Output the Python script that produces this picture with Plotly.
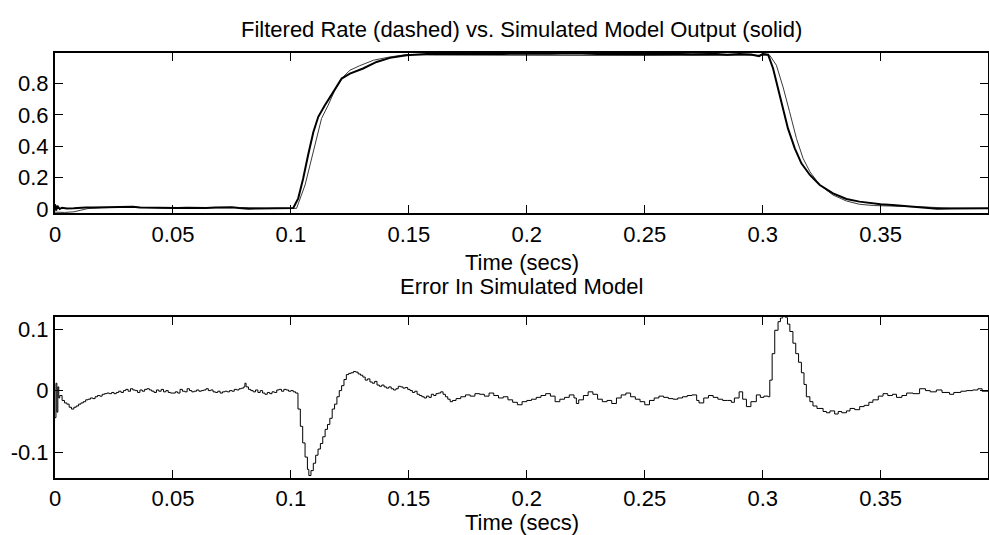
import plotly.graph_objects as go

# ---------------- data ----------------
t_filt = [0.000, 0.0005, 0.001, 0.002, 0.003, 0.005, 0.008, 0.010, 0.013, 0.016,
          0.020, 0.024, 0.027, 0.030, 0.033, 0.036, 0.040, 0.044, 0.048, 0.052,
          0.056, 0.060, 0.064, 0.068, 0.072, 0.075, 0.078, 0.082, 0.086, 0.090,
          0.094, 0.098, 0.1010, 0.1031, 0.1052, 0.1073, 0.1095, 0.1116, 0.1144, 0.1180,
          0.1215, 0.1250, 0.1306, 0.1363, 0.1420, 0.149, 0.159, 0.170, 0.180, 0.190,
          0.200, 0.210, 0.220, 0.230, 0.240, 0.250, 0.260, 0.270, 0.280, 0.285,
          0.290, 0.295, 0.2985, 0.300, 0.3023, 0.3044, 0.3065, 0.3086, 0.3107, 0.3136,
          0.3164, 0.3200, 0.3242, 0.3298, 0.3355, 0.3410, 0.346, 0.350, 0.355, 0.360,
          0.365, 0.370, 0.374, 0.380, 0.385, 0.390, 0.3955]
y_filt = [0.030, -0.010, 0.020, 0.000, 0.008, 0.003, 0.004, 0.008, 0.010, 0.010,
          0.011, 0.012, 0.016, 0.013, 0.014, 0.010, 0.008, 0.006, 0.004, 0.006,
          0.008, 0.006, 0.007, 0.010, 0.012, 0.011, 0.006, 0.002, 0.003, 0.005,
          0.006, 0.007, 0.006, 0.068, 0.195, 0.344, 0.490, 0.588, 0.662, 0.747,
          0.832, 0.864, 0.896, 0.938, 0.964, 0.981, 0.990, 0.988, 0.991, 0.989,
          0.992, 0.990, 0.993, 0.989, 0.991, 0.988, 0.990, 0.987, 0.989, 0.984,
          0.988, 0.986, 0.975, 0.989, 0.985, 0.896, 0.769, 0.641, 0.514, 0.387,
          0.291, 0.217, 0.153, 0.100, 0.064, 0.047, 0.038, 0.030, 0.026, 0.020,
          0.014, 0.010, 0.002, 0.003, 0.002, 0.004, 0.004]

t_model = [0.000, 0.004, 0.008, 0.011, 0.014, 0.020, 0.030, 0.040, 0.050, 0.060,
           0.070, 0.080, 0.090, 0.1000, 0.1024, 0.1060, 0.1080, 0.1109, 0.1130, 0.1158,
           0.1186, 0.1222, 0.1250, 0.1290, 0.1350, 0.1420, 0.1490, 0.160, 0.200, 0.250,
           0.300, 0.3030, 0.3058, 0.3086, 0.3114, 0.3143, 0.3171, 0.3200, 0.3242, 0.3298,
           0.3355, 0.3410, 0.347, 0.352, 0.360, 0.370, 0.380, 0.3955]
y_model = [-0.020, -0.022, -0.018, -0.005, 0.003, 0.008, 0.012, 0.009, 0.004, 0.007,
           0.008, 0.009, 0.004, 0.005, 0.004, 0.153, 0.280, 0.450, 0.578, 0.662,
           0.758, 0.843, 0.885, 0.913, 0.949, 0.970, 0.985, 0.982, 0.980, 0.979,
           0.981, 0.980, 0.917, 0.779, 0.620, 0.450, 0.323, 0.238, 0.153, 0.089,
           0.051, 0.030, 0.022, 0.020, 0.018, 0.012, 0.005, 0.003]

t_err = [0.0000, 0.0004, 0.0008, 0.0012, 0.0016, 0.0020, 0.0030, 0.0040, 0.0050, 0.0060,
         0.0070, 0.0080, 0.0090, 0.0100, 0.0110, 0.0120, 0.0130, 0.0140, 0.0150, 0.0160,
         0.0170, 0.0180, 0.0190, 0.0200, 0.0210, 0.0220, 0.0230, 0.0240, 0.0250, 0.0260,
         0.0270, 0.0280, 0.0290, 0.0300, 0.0310, 0.0320, 0.0330, 0.0340, 0.0350, 0.0360,
         0.0370, 0.0380, 0.0390, 0.0400, 0.0410, 0.0420, 0.0430, 0.0440, 0.0450, 0.0460,
         0.0470, 0.0480, 0.0490, 0.0500, 0.0510, 0.0520, 0.0530, 0.0540, 0.0550, 0.0560,
         0.0570, 0.0580, 0.0590, 0.0600, 0.0610, 0.0620, 0.0630, 0.0640, 0.0650, 0.0660,
         0.0670, 0.0680, 0.0690, 0.0700, 0.0710, 0.0720, 0.0730, 0.0740, 0.0750, 0.0760,
         0.0770, 0.0780, 0.0790, 0.0800, 0.0805, 0.0810, 0.0820, 0.0830, 0.0840, 0.0850,
         0.0860, 0.0870, 0.0880, 0.0890, 0.0900, 0.0910, 0.0920, 0.0930, 0.0940, 0.0950,
         0.0960, 0.0970, 0.0980, 0.0990, 0.1000, 0.1010, 0.1020, 0.1030, 0.1040, 0.1050,
         0.1060, 0.1070, 0.1076, 0.1085, 0.1095, 0.1105, 0.1115, 0.1125, 0.1135, 0.1145,
         0.1155, 0.1165, 0.1175, 0.1185, 0.1195, 0.1205, 0.1215, 0.1225, 0.1235, 0.1245,
         0.1255, 0.1265, 0.1275, 0.1285, 0.1295, 0.1305, 0.1315, 0.1325, 0.1335, 0.1345,
         0.1355, 0.1365, 0.1375, 0.1385, 0.1395, 0.1405, 0.1415, 0.1425, 0.1435, 0.1445,
         0.1455, 0.1465, 0.1475, 0.1485, 0.1495, 0.1505, 0.1515, 0.1525, 0.1535, 0.1545,
         0.1555, 0.1565, 0.1575, 0.1585, 0.1595, 0.1605, 0.1615, 0.1625, 0.1635, 0.1645,
         0.1655, 0.1665, 0.1675, 0.1685, 0.170, 0.172, 0.174, 0.176, 0.178, 0.180,
         0.182, 0.184, 0.186, 0.188, 0.190, 0.192, 0.194, 0.196, 0.198, 0.200,
         0.202, 0.204, 0.206, 0.208, 0.210, 0.212, 0.214, 0.216, 0.218, 0.220,
         0.221, 0.222, 0.224, 0.226, 0.228, 0.230, 0.232, 0.234, 0.236, 0.238,
         0.240, 0.242, 0.244, 0.246, 0.248, 0.250, 0.252, 0.254, 0.256, 0.258,
         0.260, 0.262, 0.264, 0.266, 0.268, 0.270, 0.272, 0.273, 0.275, 0.277,
         0.279, 0.281, 0.283, 0.285, 0.2867, 0.288, 0.290, 0.2915, 0.2931, 0.295,
         0.2973, 0.299, 0.3005, 0.3023, 0.3030, 0.3040, 0.3051, 0.3065, 0.3075, 0.3085,
         0.3095, 0.3105, 0.3115, 0.3128, 0.3140, 0.3152, 0.3164, 0.3175, 0.3185, 0.3200,
         0.3213, 0.3230, 0.3256, 0.3270, 0.3285, 0.3305, 0.3320, 0.3335, 0.3355, 0.3370,
         0.3390, 0.3411, 0.3430, 0.3450, 0.3467, 0.3490, 0.3510, 0.3530, 0.3550, 0.3567,
         0.3590, 0.3610, 0.3637, 0.3665, 0.3690, 0.3710, 0.3736, 0.3760, 0.3792, 0.3810,
         0.3840, 0.3863, 0.3890, 0.3912, 0.3930, 0.3955]
err = [-0.044, 0.012, -0.035, 0.006, -0.012, -0.008, -0.016, -0.020, -0.022, -0.027,
       -0.030, -0.027, -0.025, -0.022, -0.020, -0.018, -0.015, -0.014, -0.012, -0.013,
       -0.010, -0.008, -0.009, -0.006, -0.005, -0.004, -0.005, -0.003, -0.005, -0.003,
       -0.001, -0.003, 0.000, 0.002, -0.001, 0.003, 0.001, 0.000, -0.003, 0.001,
       -0.001, 0.002, 0.003, 0.001, -0.001, -0.003, 0.001, -0.001, 0.002, -0.002,
       0.000, -0.003, -0.004, -0.004, -0.002, -0.004, 0.002, -0.001, -0.002, 0.003,
       0.000, -0.002, -0.001, 0.001, -0.001, 0.000, 0.001, 0.003, 0.000, 0.001,
       -0.002, -0.003, -0.001, -0.004, -0.002, -0.001, -0.002, 0.000, -0.001, 0.002,
       0.001, 0.003, 0.004, 0.006, 0.012, 0.006, 0.002, 0.000, -0.002, 0.001,
       -0.003, 0.000, -0.004, -0.006, -0.003, -0.005, -0.002, -0.003, 0.001, 0.002,
       -0.001, 0.002, 0.001, -0.001, 0.000, -0.002, -0.004, -0.030, -0.058, -0.085,
       -0.108, -0.128, -0.138, -0.130, -0.118, -0.105, -0.095, -0.086, -0.075, -0.063,
       -0.055, -0.045, -0.030, -0.022, -0.010, 0.000, 0.008, 0.018, 0.026, 0.028,
       0.029, 0.031, 0.030, 0.027, 0.025, 0.022, 0.017, 0.019, 0.014, 0.012,
       0.015, 0.009, 0.007, 0.009, 0.006, 0.004, 0.006, 0.003, 0.001, 0.003,
       0.007, 0.006, 0.004, 0.005, 0.002, 0.000, -0.003, -0.001, -0.006, -0.008,
       -0.010, -0.012, -0.009, -0.011, -0.006, -0.008, -0.005, -0.004, -0.002, -0.006,
       -0.010, -0.014, -0.018, -0.016, -0.013, -0.010, -0.007, -0.009, -0.005, -0.006,
       -0.009, -0.004, -0.008, -0.012, -0.010, -0.015, -0.019, -0.023, -0.018, -0.016,
       -0.014, -0.011, -0.008, -0.005, -0.009, -0.018, -0.014, -0.011, -0.007, -0.012,
       -0.021, -0.015, -0.008, -0.002, -0.006, -0.014, -0.018, -0.016, -0.021, -0.012,
       -0.007, -0.004, -0.010, -0.014, -0.018, -0.023, -0.016, -0.012, -0.009, -0.011,
       -0.013, -0.014, -0.012, -0.010, -0.008, -0.007, -0.016, -0.020, -0.012, -0.008,
       -0.011, -0.014, -0.016, -0.016, -0.019, -0.012, -0.002, -0.014, -0.026, -0.018,
       -0.007, -0.011, -0.009, -0.010, 0.017, 0.060, 0.098, 0.112, 0.118, 0.121,
       0.119, 0.108, 0.096, 0.077, 0.060, 0.046, 0.029, 0.010, -0.010, -0.018,
       -0.025, -0.029, -0.034, -0.036, -0.033, -0.038, -0.034, -0.036, -0.033, -0.029,
       -0.031, -0.026, -0.024, -0.019, -0.015, -0.009, -0.005, -0.008, -0.006, -0.011,
       -0.008, -0.004, -0.005, 0.003, 0.000, -0.002, 0.001, -0.003, -0.006, -0.003,
       -0.001, 0.000, 0.001, 0.003, -0.001, -0.001]

x_ticks = [0, 0.05, 0.1, 0.15, 0.2, 0.25, 0.3, 0.35]
x_ticktext = ["0", "0.05", "0.1", "0.15", "0.2", "0.25", "0.3", "0.35"]
y1_ticks = [0, 0.2, 0.4, 0.6, 0.8]
y1_ticktext = ["0", "0.2", "0.4", "0.6", "0.8"]
y2_ticks = [-0.1, 0, 0.1]
y2_ticktext = ["-0.1", "0", "0.1"]

title_top = "Filtered Rate (dashed) vs. Simulated Model Output (solid)"
title_bottom = "Error In Simulated Model"
xlabel = "Time (secs)"

# ---------------- figure ----------------
FONT = "Liberation Sans, Arial, sans-serif"
FS = 22
fig = go.Figure()
fig.add_trace(go.Scatter(x=t_model, y=y_model, mode="lines",
                         line=dict(color="#3a3a3a", width=1), xaxis="x", yaxis="y",
                         showlegend=False))
fig.add_trace(go.Scatter(x=t_filt, y=y_filt, mode="lines",
                         line=dict(color="black", width=2), xaxis="x", yaxis="y",
                         showlegend=False))
fig.add_trace(go.Scatter(x=t_err, y=err, mode="lines",
                         line=dict(color="black", width=1, shape="hv"),
                         xaxis="x2", yaxis="y2", showlegend=False))

axis_common = dict(showline=True, linecolor="black", linewidth=2, mirror="ticks",
                   ticks="inside", ticklen=8, tickwidth=1.3, tickcolor="black",
                   showgrid=False, zeroline=False, automargin=False,
                   tickfont=dict(family=FONT, size=FS, color="black"))

fig.update_layout(
    width=989, height=535,
    margin=dict(l=55, r=1, t=53, b=57),
    paper_bgcolor="white", plot_bgcolor="white",
    xaxis=dict(domain=[0, 1], range=[0, 0.3955], anchor="y",
               tickvals=x_ticks, ticktext=x_ticktext, **axis_common),
    yaxis=dict(domain=[0.623, 1], range=[-0.027, 0.995], anchor="x",
               tickvals=y1_ticks, ticktext=y1_ticktext, **axis_common),
    xaxis2=dict(domain=[0, 1], range=[0, 0.3955], anchor="y2",
                tickvals=x_ticks, ticktext=x_ticktext, **axis_common),
    yaxis2=dict(domain=[0, 0.378], range=[-0.142, 0.119], anchor="x2",
                tickvals=y2_ticks, ticktext=y2_ticktext, **axis_common),
)

def ann(text, py):
    return dict(text=text, x=0.5, xref="paper", y=(478 - py) / 425, yref="paper",
                xanchor="center", yanchor="middle", showarrow=False,
                font=dict(family=FONT, size=FS, color="black"))

fig.update_layout(annotations=[ann(title_top, 30), ann(xlabel, 262),
                               ann(title_bottom, 286), ann(xlabel, 522)])

fig.write_html("out.html", config={"displayModeBar": False})

# remove the default page margin so the figure sits at the window's corner
with open("out.html", "r", encoding="utf-8") as f:
    html = f.read()
html = html.replace("<body>", '<body style="margin:0;padding:0;overflow:hidden;">', 1)
with open("out.html", "w", encoding="utf-8") as f:
    f.write(html)
